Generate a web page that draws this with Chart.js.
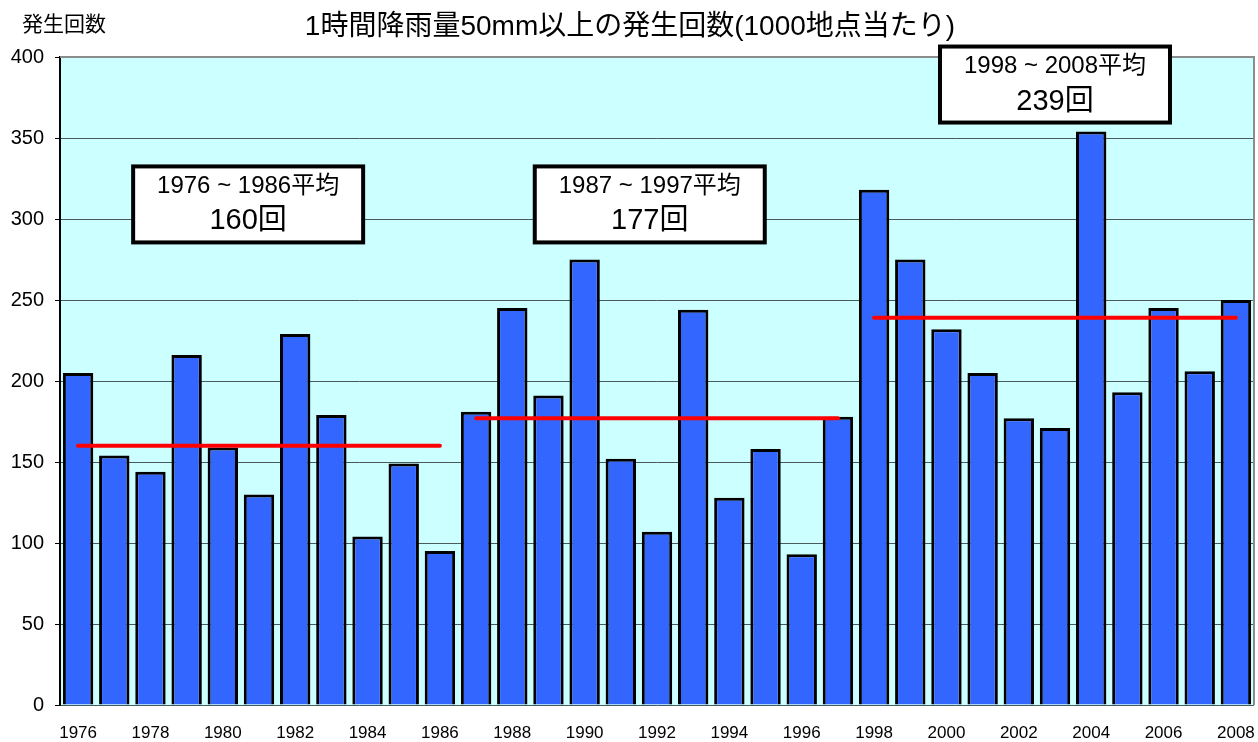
<!DOCTYPE html>
<html>
<head>
<meta charset="utf-8">
<script src="https://cdn.jsdelivr.net/npm/chart.js@4/dist/chart.umd.min.js"></script>
<style>
  body { margin: 0; background: #fff; }
  #wrap { width: 1258px; height: 742px; }
</style>
</head>
<body>
<div id="wrap"><canvas id="rainChart"></canvas></div>
<script>
// data
const years = ['1976','1977','1978','1979','1980','1981','1982','1983','1984','1985','1986',
  '1987','1988','1989','1990','1991','1992','1993','1994','1995','1996','1997',
  '1998','1999','2000','2001','2002','2003','2004','2005','2006','2007','2008'];
const counts = [205, 154, 144, 216, 159, 130, 229, 179, 104, 149, 95,
  181, 245, 191, 275, 152, 107, 244, 128, 158, 93, 178,
  318, 275, 232, 205, 177, 171, 354, 193, 245, 206, 250];
const shownYears = ['1976','1978','1980','1982','1984','1986','1988','1990','1992','1994','1996',
  '1998','2000','2002','2004','2006','2008'];
const yTicks = [0, 50, 100, 150, 200, 250, 300, 350, 400];

const periodStart = ['1976', '1987', '1998'];
const periodEnd = ['1986', '1997', '2008'];
const periodAvg = [160, 177, 239];
const periodLabels = ['1976 ~ 1986平均', '1987 ~ 1997平均', '1998 ~ 2008平均'];

const chartTitle = '1時間降雨量50mm以上の発生回数(1000地点当たり)';
const yTitle = '発生回数';

// where the average boxes sit (category index, value)
const boxPlace = [{x: 4.7, y: 309}, {x: 15.8, y: 309}, {x: 27.0, y: 383}];

const FONT = '"Liberation Sans", "Noto Sans CJK JP", sans-serif';

// one line dataset for each period average
const avgSets = periodAvg.map(function(v, k){
  return {
    type: 'line',
    label: periodLabels[k],
    data: years.map(y => (y >= periodStart[k] && y <= periodEnd[k]) ? v : null),
    borderColor: '#ff0000',
    borderWidth: 4,
    borderCapStyle: 'round',
    pointRadius: 0,
    spanGaps: false,
    order: 0
  };
});

const plotDecor = {
  id: 'plotDecor',
  beforeDraw(chart) {
    const a = chart.chartArea, c = chart.ctx;
    c.save();
    c.fillStyle = '#ccffff';
    c.fillRect(a.left, a.top, a.right - a.left, a.bottom - a.top);
    c.restore();
  },
  afterDraw(chart) {
    const a = chart.chartArea, c = chart.ctx;
    const xs = chart.scales.x, ys = chart.scales.y;
    c.save();
    // top and right frame
    c.strokeStyle = '#8c8c8c';
    c.lineWidth = 2;
    c.beginPath();
    c.moveTo(a.left, a.top);
    c.lineTo(a.right, a.top);
    c.lineTo(a.right, a.bottom);
    c.stroke();

    // titles
    c.fillStyle = '#000';
    c.textBaseline = 'middle';
    c.textAlign = 'center';
    c.font = '28px ' + FONT;
    c.fillText(chartTitle, 630, 27);
    c.textAlign = 'left';
    c.font = '21px ' + FONT;
    c.fillText(yTitle, 22, 25);

    // average boxes
    const bw = 230, bh = 76;
    boxPlace.forEach(function(p, k){
      const cx = xs.getPixelForValue(p.x);
      const cy = ys.getPixelForValue(p.y);
      c.fillStyle = '#fff';
      c.fillRect(cx - bw/2, cy - bh/2, bw, bh);
      c.strokeStyle = '#000';
      c.lineWidth = 4;
      c.strokeRect(cx - bw/2, cy - bh/2, bw, bh);
      c.fillStyle = '#000';
      c.textAlign = 'center';
      c.font = '24px ' + FONT;
      c.fillText(periodLabels[k], cx, cy - 18);
      c.font = '29px ' + FONT;
      c.fillText(periodAvg[k] + '回', cx, cy + 17);
    });
    c.restore();
  }
};

const config = {
  data: {
    labels: years,
    datasets: [
      {
        type: 'bar',
        label: yTitle,
        data: counts,
        backgroundColor: '#3366ff',
        borderColor: '#000',
        borderWidth: 3,
        barPercentage: 0.84,
        categoryPercentage: 1,
        order: 1
      }
    ].concat(avgSets)
  },
  options: {
    responsive: true,
    maintainAspectRatio: false,
    animation: false,
    layout: { padding: { top: 57, right: 4, left: 0, bottom: 0 } },
    plugins: {
      legend: { display: false },
      tooltip: { enabled: false },
      title: { display: false }
    },
    scales: {
      x: {
        grid: { display: false, drawTicks: false },
        border: { display: false },
        ticks: {
          autoSkip: false,
          maxRotation: 0,
          padding: 18,
          color: '#000',
          font: { family: FONT, size: 17 },
          callback: function(v, i){ return shownYears.includes(years[i]) ? years[i] : ''; }
        },
        afterFit: function(s){ s.height = 37; s.paddingLeft = 0; s.paddingRight = 0; }
      },
      y: {
        min: 0,
        max: 400,
        afterBuildTicks: function(s){ s.ticks = yTicks.map(v => ({value: v})); },
        grid: { color: '#4a5a5a', lineWidth: 1, drawTicks: true, tickLength: 5, tickColor: '#000' },
        border: { display: true, color: '#000', width: 2 },
        ticks: {
          padding: 11,
          color: '#000',
          font: { family: FONT, size: 20 }
        },
        afterFit: function(s){ s.width = 60; s.paddingTop = 0; s.paddingBottom = 0; }
      }
    }
  },
  plugins: [plotDecor]
};

// render
var rainChart = new Chart(document.getElementById('rainChart'), config);
</script>
</body>
</html>
